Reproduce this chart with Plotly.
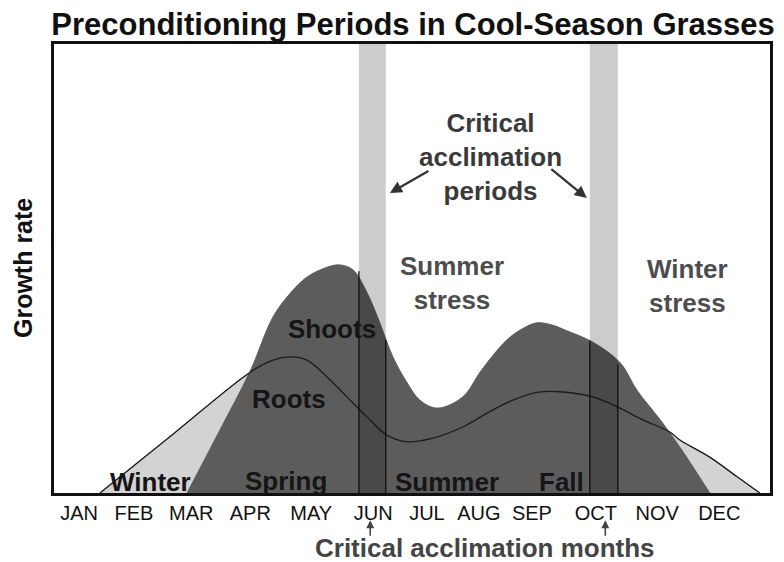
import plotly.graph_objects as go

# ---------------- data ----------------
months = ["JAN", "FEB", "MAR", "APR", "MAY", "JUN", "JUL", "AUG", "SEP", "OCT", "NOV", "DEC"]
month_pos = [0.42, 1.34, 2.30, 3.29, 4.31, 5.35, 6.25, 7.12, 8.01, 9.08, 10.11, 11.15]

# Shoots growth (dark area)
shoots_x = [2.23, 2.76, 3.29, 3.67, 3.96, 4.24, 4.58, 4.79, 5.01, 5.25, 5.46, 5.68, 5.92, 6.13,
            6.42, 6.85, 7.14, 7.36, 7.59, 7.84, 8.09, 8.35, 8.60, 9.03, 9.49, 9.77, 10.16,
            10.49, 10.71, 10.99]
shoots_y = [0.0, 13.5, 27.2, 39.2, 44.5, 48.1, 50.3, 50.8, 49.7, 44.5, 37.9, 30.3, 24.5, 20.7,
            18.9, 21.4, 26.9, 30.7, 34.1, 36.5, 37.9, 37.4, 36.1, 33.6, 29.0, 22.9, 16.3,
            10.2, 5.8, 0.0]

# Roots growth (light area + line)
roots_x = [0.77, 2.03, 3.29, 3.67, 3.96, 4.24, 4.58, 4.91, 5.25, 5.58, 5.92, 6.35, 6.85, 7.26,
           7.69, 8.15, 8.53, 9.03, 9.44, 9.87, 10.32, 10.49, 10.99, 11.45, 11.83]
roots_y = [0.0, 13.5, 26.9, 29.6, 30.3, 29.6, 25.8, 21.4, 16.9, 12.9, 11.4, 12.2, 14.7, 17.8,
           20.7, 22.5, 22.5, 21.4, 19.2, 16.3, 13.6, 11.8, 8.0, 3.6, 0.0]

# Critical acclimation periods (start, end) and shoot height at their edges
crit_start = [5.11, 8.98]
crit_end = [5.56, 9.45]
crit_h_start = [49.4, 33.9]
crit_h_end = [34.1, 28.7]
crit_months_x = [5.30, 9.24]

FONT = "Liberation Sans, Arial, Helvetica, sans-serif"

fig = go.Figure()

# roots (light area)
fig.add_trace(go.Scatter(
    x=roots_x, y=roots_y, mode="lines", line=dict(shape="spline", color="#7a7a7a", width=1),
    fill="tozeroy", fillcolor="#d3d3d3", hoverinfo="skip"))
# shoots (dark area)
fig.add_trace(go.Scatter(
    x=shoots_x, y=shoots_y, mode="lines", line=dict(shape="spline", color="#5c5c5c", width=1),
    fill="tozeroy", fillcolor="#5c5c5c", hoverinfo="skip"))
# roots line on top
fig.add_trace(go.Scatter(
    x=roots_x, y=roots_y, mode="lines", line=dict(shape="spline", color="#1c1c1c", width=1.3),
    hoverinfo="skip"))

# edge lines of the critical periods inside the shoots area
for xs, xe, hs, he in zip(crit_start, crit_end, crit_h_start, crit_h_end):
    fig.add_trace(go.Scatter(x=[xs, xs], y=[0, hs], mode="lines",
                             line=dict(color="#111", width=1.3), hoverinfo="skip"))
    fig.add_trace(go.Scatter(x=[xe, xe], y=[0, he], mode="lines",
                             line=dict(color="#111", width=1.3), hoverinfo="skip"))

shapes = []
for xs, xe in zip(crit_start, crit_end):
    shapes.append(dict(type="rect", xref="x", yref="y", x0=xs, x1=xe, y0=0, y1=100,
                       fillcolor="rgba(0,0,0,0.2)", line=dict(width=0), layer="above"))

ann = []


def txt(x, y, s, color="#151515", size=26, xref="x", yref="y", **kw):
    d = dict(x=x, y=y, xref=xref, yref=yref, text=s, showarrow=False,
             xanchor="center", yanchor="middle",
             font=dict(family=FONT, size=size, color=color, weight="bold"))
    d.update(kw)
    ann.append(d)


# season labels
txt(1.61, 2.5, "Winter")
txt(3.89, 2.7, "Spring")
txt(6.59, 2.5, "Summer")
txt(8.51, 2.5, "Fall")
txt(4.66, 36.5, "Shoots")
txt(3.94, 20.9, "Roots")
txt(6.67, 46.7, "Summer<br>stress", color="#4d4d4d")
txt(10.61, 46.1, "Winter<br>stress", color="#4d4d4d")
txt(7.31, 74.8, "Critical<br>acclimation<br>periods", color="#3a3a3a")

# arrows to the critical periods
ann.append(dict(x=5.63, y=66.8, xref="x", yref="y", ax=40, ay=-23, text="", showarrow=True,
                arrowhead=2, arrowsize=1.1, arrowwidth=2.2, arrowcolor="#333"))
ann.append(dict(x=8.93, y=65.7, xref="x", yref="y", ax=-37, ay=-30, text="", showarrow=True,
                arrowhead=2, arrowsize=1.1, arrowwidth=2.2, arrowcolor="#333"))

# y-axis label
txt(-0.0433, 0.501, "Growth rate", xref="paper", yref="paper", size=25, textangle=-90,
    color="#111")

# bottom label and arrows
txt(0.602, -0.122, "Critical acclimation months", xref="paper", yref="paper", size=26,
    color="#444")
for mx in crit_months_x:
    ann.append(dict(x=mx, y=-0.0606, xref="x", yref="paper", ax=0, ay=17, text="",
                    showarrow=True, arrowhead=2, arrowsize=1.0, arrowwidth=1.6,
                    arrowcolor="#444"))

# the page body adds an 8 px offset, so the figure is 8 px smaller than the window
fig.update_layout(
    width=776, height=554,
    margin=dict(l=46, r=14, t=36, b=69),
    paper_bgcolor="white", plot_bgcolor="white",
    showlegend=False,
    title=dict(text="Preconditioning Periods in Cool-Season Grasses",
               font=dict(family=FONT, size=31, color="#111", weight="bold"),
               x=0.522, xanchor="center", y=0.971, yanchor="middle"),
    xaxis=dict(range=[0, 12], tickvals=month_pos, ticktext=months, ticks="",
               showgrid=False, zeroline=False, showline=True, mirror=True,
               linewidth=3, linecolor="#111",
               tickfont=dict(family=FONT, size=20, color="#111")),
    yaxis=dict(range=[0, 100], showticklabels=False, ticks="", showgrid=False,
               zeroline=False, showline=True, mirror=True, linewidth=3, linecolor="#111"),
    shapes=shapes,
    annotations=ann,
)

fig.write_html("out.html")
